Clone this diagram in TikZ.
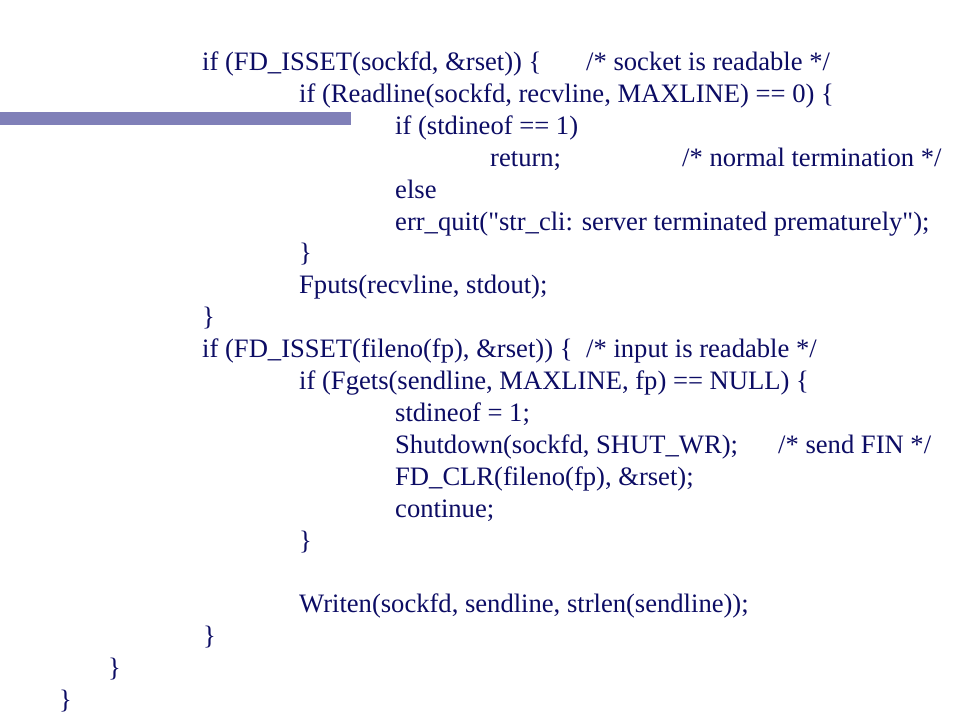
\documentclass[tikz,border=0pt]{standalone}
\usepackage{fontspec}
\setmainfont{Liberation Serif}
\usepackage{tikz}
\definecolor{codeblue}{RGB}{12,12,100}
\definecolor{barblue}{RGB}{128,128,184}

\begin{document}
\begin{tikzpicture}[x=1pt, y=-1pt, every node/.style={anchor=base west, inner sep=0pt, text=codeblue, font=\fontsize{26.6}{32}\selectfont}]
                    \fill[white] (0,0) rectangle (960,720);
                    \useasboundingbox (0,0) rectangle (960,720);
                    \fill[barblue] (0,112) rectangle (351,125);

                    \node at (202,70)(ifsock){if (FD\_ISSET(sockfd, \&rset)) \{};
                    \node at (586,70)(csock){/* socket is readable */};
                    \node at (299,102)(ifread){if (Readline(sockfd, recvline, MAXLINE) == 0) \{};
                    \node at (395,134)(ifeof){if (stdineof == 1)};
                    \node at (490,166)(ret){return;};
                    \node at (682,166)(cret){/* normal termination */};
                    \node at (395,198)(els){else};
                    \node at (395,230)(quit){err\_quit(\textquotedbl str\_cli: server terminated prematurely\textquotedbl);};
                    \node at (299,261)(endread){\}};
                    \node at (299,293)(fputs){Fputs(recvline, stdout);};
                    \node at (202,325)(endsock){\}};

                    \node at (202,357)(iffile){if (FD\_ISSET(fileno(fp), \&rset)) \{};
                    \node at (586,357)(cfile){/* input is readable */};
                    \node at (299,389)(ifgets){if (Fgets(sendline, MAXLINE, fp) == NULL) \{};
                    \node at (395,421)(seteof){stdineof = 1;};
                    \node at (395,453)(shut){Shutdown(sockfd, SHUT\_WR);};
                    \node at (778,453)(cshut){/* send FIN */};
                    \node at (395,485)(clr){FD\_CLR(fileno(fp), \&rset);};
                    \node at (395,517)(cont){continue;};
                    \node at (299,549)(endgets){\}};
                    \node at (299,612)(writen){Writen(sockfd, sendline, strlen(sendline));};
                    \node at (203,644)(endfile){\}};
                    \node at (108,676)(endloop){\}};
                    \node at (59,708)(endfunc){\}};
                \end{tikzpicture}
\end{document}
